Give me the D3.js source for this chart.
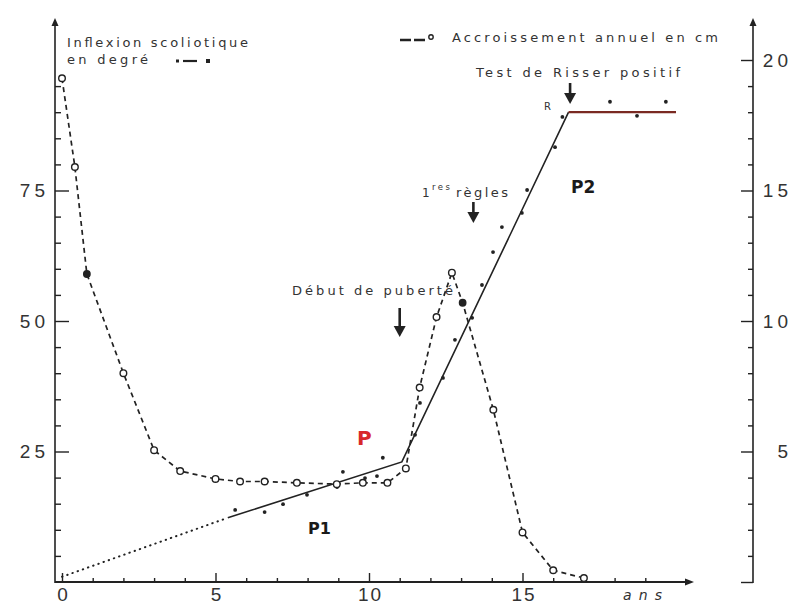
<!DOCTYPE html>
<html>
<head>
<meta charset="utf-8">
<script src="https://cdn.jsdelivr.net/npm/d3@7"></script>
<style>
  body { margin: 0; background: #fff; }
</style>
</head>
<body>
<svg id="chart" width="793" height="605"></svg>
<script>
// Annual growth (cm), dashed curve with open circles (right axis)
const growthAge  = [0, 0.42, 0.81, 2.0, 3.0, 3.85, 5.0, 5.8, 6.6, 7.65, 8.95, 9.8, 10.6, 11.2, 11.65, 12.2, 12.7, 13.05, 14.05, 15.0, 16.0, 17.0];
const growthCm   = [19.3, 15.9, 11.8, 8.0, 5.05, 4.25, 3.95, 3.85, 3.85, 3.8, 3.75, 3.8, 3.8, 4.35, 7.45, 10.15, 11.85, 10.7, 6.6, 1.9, 0.45, 0.15];
const growthMark = ["o", "o", "•", "o", "o", "o", "o", "o", "o", "o", "o", "o", "o", "o", "o", "o", "o", "•", "o", "o", "o", "o"];

// Scoliotic curve (degrees), fitted broken line O - P - R
const fitAge = [0, 5.4, 11.07, 16.5, 20];
const fitDeg = [1, 12.3, 23, 90, 90];

// Scoliotic curve, measured points
const obsAge = [5.64, 6.6, 7.2, 7.98, 8.96, 9.15, 9.87, 10.26, 10.45, 11.5, 11.66, 12.41, 12.8, 13.36, 13.68, 14.04, 14.33, 14.98, 15.15, 16.06, 16.3, 17.85, 18.73, 19.67];
const obsDeg = [13.8, 13.4, 14.9, 16.7, 18.2, 21.1, 19.9, 20.3, 23.8, 28.2, 34.3, 39.1, 46.4, 50.6, 56.9, 63.2, 68.0, 70.7, 75.1, 83.3, 89.1, 92.0, 89.3, 92.0];

// Axis ticks
const xTicks   = [0, 5, 10, 15];
const degTicks = [25, 50, 75];
const cmTicks  = [5, 10, 15, 20];

// Events (age in years)
const pubertyAge = 11.0;
const mensesAge  = 13.4;
const risserAge  = 16.55;

const ink = "#222";
const txt = "#333";

const svg = d3.select("#chart")
    .attr("font-family", "DejaVu Sans, sans-serif");

const x    = d3.scaleLinear().domain([0, 20]).range([62, 676]);
const yDeg = d3.scaleLinear().domain([0, 100]).range([582, 60]);
const yCm  = d3.scaleLinear().domain([0, 20]).range([582, 60]);

const leftX = 55, rightX = 753, baseY = 582;

// small arrow head for the axes
function headPath(px, py, dir) {
    if (dir === "up")    return `M${px},${py} L${px - 3.5},${py + 8} L${px + 3.5},${py + 8} Z`;
    if (dir === "right") return `M${px},${py} L${px - 9},${py - 3.5} L${px - 9},${py + 3.5} Z`;
    return `M${px},${py} L${px - 6},${py - 11} L${px + 6},${py - 11} Z`;
}

// ---- axes lines
svg.append("line").attr("x1", leftX).attr("x2", leftX).attr("y1", baseY + 1).attr("y2", 24)
    .attr("stroke", ink).attr("stroke-width", 1.6);
svg.append("path").attr("d", headPath(leftX, 18, "up")).attr("fill", ink);

svg.append("line").attr("x1", rightX).attr("x2", rightX).attr("y1", baseY + 1).attr("y2", 24)
    .attr("stroke", ink).attr("stroke-width", 1.6);
svg.append("path").attr("d", headPath(rightX, 18, "up")).attr("fill", ink);

svg.append("line").attr("x1", leftX).attr("x2", 688).attr("y1", baseY).attr("y2", baseY)
    .attr("stroke", ink).attr("stroke-width", 2.2);
svg.append("path").attr("d", headPath(694, baseY, "right")).attr("fill", ink);

function cleanAxis(g) {
    g.select(".domain").remove();
    g.selectAll(".tick line").attr("stroke", ink).attr("stroke-width", 1.4);
    g.selectAll(".tick text").attr("fill", txt).attr("font-size", 19).attr("letter-spacing", 4);
}

// left axis (degrees)
svg.append("g").attr("transform", `translate(${leftX},0)`)
    .call(d3.axisLeft(yDeg).tickValues(d3.range(5, 100, 5).filter(v => v % 25)).tickSize(-6).tickFormat(""))
    .call(cleanAxis);
svg.append("g").attr("transform", `translate(${leftX},0)`)
    .call(d3.axisLeft(yDeg).tickValues(degTicks).tickSize(-14).tickPadding(6))
    .call(cleanAxis);

// right axis (cm)
svg.append("g").attr("transform", `translate(${rightX},0)`)
    .call(d3.axisRight(yCm).tickValues(d3.range(1, 20).filter(v => v % 5)).tickSize(-5).tickFormat(""))
    .call(cleanAxis);
svg.append("g").attr("transform", `translate(${rightX},0)`)
    .call(d3.axisRight(yCm).tickValues([0].concat(cmTicks)).tickSize(-12).tickPadding(8)
        .tickFormat(d => d === 0 ? "" : d))
    .call(cleanAxis)
    .call(g => g.selectAll(".tick text").attr("text-anchor", "end").attr("x", 39));

// bottom axis (years)
svg.append("g").attr("transform", `translate(0,${baseY})`)
    .call(d3.axisBottom(x).tickValues(d3.range(1, 20).filter(v => v % 5)).tickSize(-4).tickFormat(""))
    .call(cleanAxis);
svg.append("g").attr("transform", `translate(0,${baseY})`)
    .call(d3.axisBottom(x).tickValues(xTicks).tickSize(-9).tickPadding(6))
    .call(cleanAxis)
    .call(g => g.selectAll(".tick text").attr("letter-spacing", 2).attr("dx", 1));

// ---- scoliotic curve: fitted broken line
const fit = fitAge.map((a, i) => [a, fitDeg[i]]);
const fitLine = d3.line().x(d => x(d[0])).y(d => yDeg(d[1]));

svg.append("path").attr("d", fitLine(fit.slice(0, 2)))
    .attr("fill", "none").attr("stroke", ink).attr("stroke-width", 2)
    .attr("stroke-linecap", "round").attr("stroke-dasharray", "0.5,5");
svg.append("path").attr("d", fitLine(fit.slice(1, 4)))
    .attr("fill", "none").attr("stroke", ink).attr("stroke-width", 1.6);
svg.append("path").attr("d", fitLine(fit.slice(3, 5)))
    .attr("fill", "none").attr("stroke", "#7a2a22").attr("stroke-width", 2.2);

// measured points
svg.append("g").selectAll("circle")
    .data(obsAge.map((a, i) => [a, obsDeg[i]]))
    .join("circle")
    .attr("cx", d => x(d[0]))
    .attr("cy", d => yDeg(d[1]))
    .attr("r", 1.9)
    .attr("fill", ink);

// ---- annual growth curve
const growth = growthAge.map((a, i) => ({age: a, cm: growthCm[i], mark: growthMark[i]}));
svg.append("path")
    .attr("d", d3.line().x(d => x(d.age)).y(d => yCm(d.cm))(growth))
    .attr("fill", "none").attr("stroke", ink).attr("stroke-width", 1.7)
    .attr("stroke-dasharray", "5,4");

svg.append("g").selectAll("circle")
    .data(growth)
    .join("circle")
    .attr("cx", d => x(d.age))
    .attr("cy", d => yCm(d.cm))
    .attr("r", d => d.mark === "o" ? 3.3 : 3.2)
    .attr("fill", d => d.mark === "o" ? "#fff" : ink)
    .attr("stroke", ink)
    .attr("stroke-width", 1.4);

// ---- event arrows
function eventArrow(age, y1, y2) {
    const px = x(age);
    svg.append("line").attr("x1", px).attr("x2", px).attr("y1", y1).attr("y2", y2 - 8)
        .attr("stroke", ink).attr("stroke-width", 2.6);
    svg.append("path").attr("d", headPath(px, y2, "down")).attr("fill", ink);
}
eventArrow(pubertyAge, 308, 337);
eventArrow(mensesAge, 202, 223);
eventArrow(risserAge, 83, 104);

// ---- texts
function label(t, px, py, size, opts) {
    opts = opts || {};
    const el = svg.append("text")
        .attr("x", px).attr("y", py)
        .attr("font-size", size)
        .attr("fill", opts.fill || txt)
        .text(t);
    if (opts.len) el.attr("textLength", opts.len).attr("lengthAdjust", "spacing");
    if (opts.weight) el.attr("font-weight", opts.weight);
    if (opts.style) el.attr("font-style", opts.style);
    return el;
}

label("Inflexion scoliotique", 67, 47, 13, {len: 181});
label("en degré", 67, 64, 13, {len: 81});
label("Accroissement annuel en cm", 452, 42, 13, {len: 266});
label("Test de Risser positif", 476, 77, 13, {len: 204});
label("Début de puberté", 292, 295, 13, {len: 161});
label("1", 422, 197, 12);
label("res", 432, 190, 8.5, {len: 18});
label("règles", 456, 197, 13, {len: 52});
label("R", 544, 110, 10);
label("P", 357, 445, 20, {weight: "bold", fill: "#d8282a"});
label("P1", 308, 534, 16, {weight: "bold", fill: "#1a1a1a"});
label("P2", 571, 193, 17, {weight: "bold", fill: "#1a1a1a"});
label("ans", 623, 600, 14, {style: "italic", len: 39});

// legend symbols
// inflexion: dot - dash - dot
svg.append("rect").attr("x", 176).attr("y", 59.5).attr("width", 3).attr("height", 3).attr("fill", ink);
svg.append("line").attr("x1", 183).attr("x2", 197).attr("y1", 61).attr("y2", 61)
    .attr("stroke", ink).attr("stroke-width", 2.2);
svg.append("rect").attr("x", 206).attr("y", 59).attr("width", 4).attr("height", 4).attr("fill", ink);
// growth: dash dash circle
svg.append("line").attr("x1", 400).attr("x2", 426).attr("y1", 40).attr("y2", 40)
    .attr("stroke", ink).attr("stroke-width", 2.4).attr("stroke-dasharray", "11,3");
svg.append("circle").attr("cx", 431).attr("cy", 37).attr("r", 2.2)
    .attr("fill", "#fff").attr("stroke", ink).attr("stroke-width", 1.4);
</script>
</body>
</html>
